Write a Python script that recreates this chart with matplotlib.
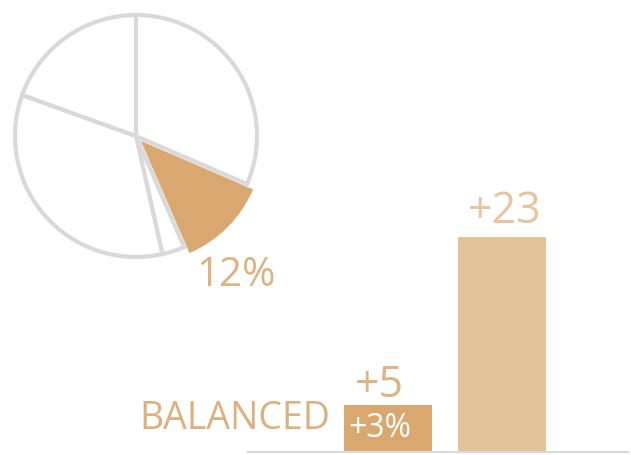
import matplotlib
matplotlib.use("Agg")
import matplotlib.pyplot as plt

plt.rcParams['font.family'] = ['Open Sans', 'DejaVu Sans']

# Data
pie_values = [31.5, 12, 3, 34, 19.5]
highlight_index = 1
pie_label = "12%"
bar_categories = ["A", "B"]
bar_values = [5, 23]
bar_labels = ["+5", "+23"]
inner_label = "+3%"
side_label = "BALANCED"

W, H = 631, 456
fig = plt.figure(figsize=(W / 100, H / 100), dpi=100)

TAN = "#D9A870"
TAN_LIGHT = "#E4C29A"
GRAY = "#D9D9D9"

# Pie axes (pixel geometry)
cx, cy, r = 136, 137, 121
lim = 1.1
half = lim * r
ax_p = fig.add_axes([(cx - half) / W, (H - cy - half) / H, 2 * half / W, 2 * half / H])

colors = ["white"] * len(pie_values)
colors[highlight_index] = TAN
explode = [0] * len(pie_values)
explode[highlight_index] = 0.065
wedges, _ = ax_p.pie(pie_values, colors=colors, explode=explode, startangle=90,
                     counterclock=False, radius=1.0,
                     wedgeprops=dict(edgecolor=GRAY, linewidth=3))
wedges[highlight_index].set_edgecolor(TAN)
wedges[highlight_index].set_linewidth(0.5)
wedges[highlight_index].set_zorder(3)
ax_p.set_xlim(-lim, lim)
ax_p.set_ylim(-lim, lim)
ax_p.set_aspect('equal')
ax_p.axis('off')

fig.text(236 / W, 1 - 286 / H, pie_label, ha='center', va='baseline',
         fontsize=29, color="#E0B27F")

# Bar axes
left, right, top, bottom = 248, 628, 190, 453
ax_b = fig.add_axes([left / W, (H - bottom) / H, (right - left) / W, (bottom - top) / H])
unit = 114.0
ax_b.set_xlim(-(388 - left) / unit, 1 + (right - 502) / unit)
px_per_val = 215 / 23
ax_b.set_ylim(0, (bottom - top) / px_per_val)
xs = list(range(len(bar_values)))
ax_b.bar(xs, bar_values, width=88 / unit, color=[TAN, TAN_LIGHT], zorder=2)
for s in ['top', 'right', 'left']:
    ax_b.spines[s].set_visible(False)
ax_b.spines['bottom'].set_color(GRAY)
ax_b.spines['bottom'].set_linewidth(1.5)
ax_b.set_xticks([])
ax_b.set_yticks([])
ax_b.patch.set_alpha(0)

ax_b.annotate(bar_labels[0], (xs[0] - 9 / unit, bar_values[0]), xytext=(0, 9),
              textcoords='offset pixels', ha='center', va='baseline',
              fontsize=31, color="#DDB584", annotation_clip=False)
ax_b.annotate(bar_labels[1], (xs[1] + 3 / unit, bar_values[1]), xytext=(0, 15),
              textcoords='offset pixels', ha='center', va='baseline',
              fontsize=31, color="#E6C59F", annotation_clip=False)
ax_b.annotate(inner_label, (xs[0] - 8 / unit, 0), xytext=(0, 453 - 437),
              textcoords='offset pixels', ha='center', va='baseline',
              fontsize=23, color="white", zorder=5)

fig.text(330 / W, 1 - 429 / H, side_label, ha='right', va='baseline',
         fontsize=27, color="#DDB080")

fig.savefig("out.png", dpi=100, facecolor="white")
